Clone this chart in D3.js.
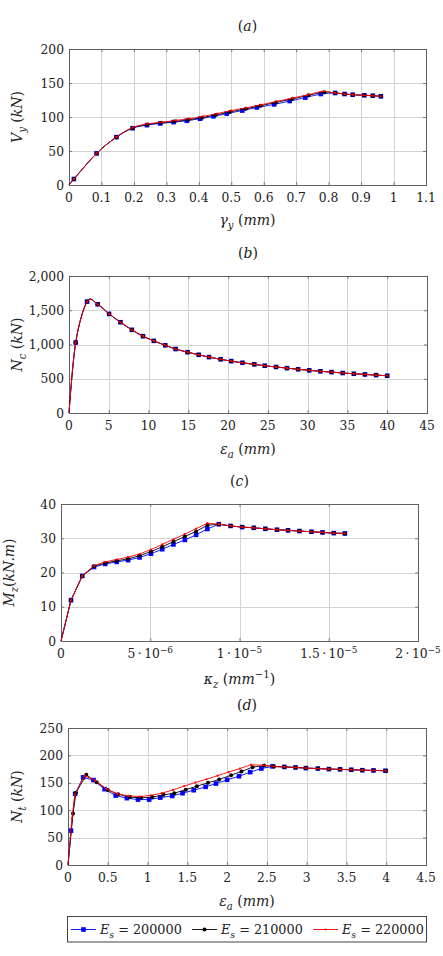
<!DOCTYPE html>
<html><head><meta charset="utf-8">
<script src="https://cdn.jsdelivr.net/npm/d3@7"></script>
<style>html,body{margin:0;padding:0;background:#fff}svg{display:block}
svg text{font-family:"DejaVu Serif",serif;}</style>
</head><body>
<svg id="chart" width="443" height="956"></svg>
<script>
// ---------- DATA ----------
const legendValues = ["200000", "210000", "220000"];

// Panel (a): V_y (kN) vs gamma_y (mm)
const aX200 = [0, 0.015, 0.085, 0.146, 0.196, 0.24, 0.281, 0.322, 0.363, 0.404, 0.445, 0.486, 0.534, 0.579, 0.632, 0.68, 0.728, 0.776, 0.82, 0.849, 0.874, 0.91, 0.936, 0.961];
const aY200 = [0, 8.8, 46.5, 70.4, 83.5, 88, 90.5, 92.5, 94.5, 97.5, 101, 105, 109.5, 114, 118.5, 123.5, 128.5, 133.8, 135.3, 133.8, 132.8, 131.9, 131.3, 130.4];
const aX210 = [0, 0.015, 0.085, 0.146, 0.196, 0.242, 0.284, 0.326, 0.368, 0.41, 0.452, 0.496, 0.545, 0.59, 0.638, 0.688, 0.738, 0.787, 0.82, 0.849, 0.874, 0.91, 0.936, 0.961];
const aY210 = [0, 8.8, 46.5, 70.4, 84, 89, 91.5, 93.5, 96, 99, 103, 107.5, 112, 116.5, 121.5, 126.5, 132, 136.5, 135.3, 133.8, 132.8, 131.9, 131.3, 130.4];
const aX220 = [0, 0.015, 0.085, 0.146, 0.196, 0.243, 0.287, 0.33, 0.372, 0.414, 0.457, 0.5, 0.546, 0.592, 0.64, 0.69, 0.735, 0.78, 0.82, 0.849, 0.874, 0.91, 0.936, 0.961];
const aY220 = [0, 8.8, 46.5, 70.4, 84.5, 90, 92.5, 95, 97.5, 101, 105, 109.5, 113.5, 118, 123, 128, 132.5, 137.5, 135.3, 133.8, 132.8, 131.9, 131.3, 130.4];

// Panel (b): N_c (kN) vs eps_a (mm)  (three series coincide)
const bX = [0, 0.84, 2.27, 3.6, 5.04, 6.47, 7.9, 9.3, 10.66, 12.1, 13.4, 14.9, 16.3, 17.6, 19.06, 20.4, 21.8, 23.3, 24.6, 26.03, 27.4, 28.8, 30.2, 31.6, 33, 34.4, 35.8, 37.2, 38.6, 40];
const bY200 = [0, 1029, 1626, 1587, 1447, 1325, 1214, 1121, 1053, 988, 934, 888, 850, 816, 784, 757, 733, 710, 690, 672, 655, 638, 623, 609, 597, 584, 573, 563, 553, 544];
const bY210 = [0, 1029, 1626, 1587, 1447, 1325, 1214, 1121, 1053, 988, 934, 888, 850, 816, 784, 757, 733, 710, 690, 672, 655, 638, 623, 609, 597, 584, 573, 563, 553, 544];
const bY220 = [0, 1029, 1626, 1587, 1447, 1325, 1214, 1121, 1053, 988, 934, 888, 850, 816, 784, 757, 733, 710, 690, 672, 655, 638, 623, 609, 597, 584, 573, 563, 553, 544];

// Panel (c): M_z (kN.m) vs kappa_z (mm^-1)
const cX = [0, 0.56e-6, 1.19e-6, 1.85e-6, 2.48e-6, 3.12e-6, 3.76e-6, 4.4e-6, 5.04e-6, 5.67e-6, 6.3e-6, 6.94e-6, 7.57e-6, 8.2e-6, 8.84e-6, 9.5e-6, 10.15e-6, 10.8e-6, 11.45e-6, 12.1e-6, 12.72e-6, 13.36e-6, 14.03e-6, 14.65e-6, 15.28e-6, 15.9e-6];
const cY200 = [0, 11.9, 19.0, 21.6, 22.5, 23.1, 23.6, 24.4, 25.5, 26.8, 28.2, 29.5, 31.0, 32.7, 34.1, 33.6, 33.25, 33.05, 32.76, 32.5, 32.3, 32.1, 31.9, 31.7, 31.5, 31.4];
const cY210 = [0, 11.9, 19.0, 21.8, 22.8, 23.4, 24.0, 24.9, 26.1, 27.5, 29.0, 30.5, 32.0, 33.8, 34.1, 33.6, 33.25, 33.05, 32.76, 32.5, 32.3, 32.1, 31.9, 31.7, 31.5, 31.4];
const cY220 = [0, 11.9, 19.0, 22.0, 23.1, 23.8, 24.5, 25.4, 26.7, 28.2, 29.7, 31.2, 32.8, 34.4, 34.1, 33.6, 33.25, 33.05, 32.76, 32.5, 32.3, 32.1, 31.9, 31.7, 31.5, 31.4];

// Panel (d): N_t (kN) vs eps_a (mm)
const dX200 = [0, 0.038, 0.09, 0.19, 0.32, 0.46, 0.6, 0.74, 0.88, 1.02, 1.16, 1.31, 1.44, 1.58, 1.73, 1.86, 2.0, 2.15, 2.29, 2.43, 2.57, 2.72, 2.86, 2.99, 3.14, 3.28, 3.42, 3.56, 3.7, 3.84, 3.99];
const dY200 = [0, 62.7, 130, 160, 155, 138.4, 126.7, 122, 119.4, 119.4, 123, 126, 131, 136.5, 142.6, 148.6, 155.4, 162, 169.5, 176, 180, 179, 178, 176.8, 176, 175, 174.5, 173.8, 173, 172.6, 172];
const dX210 = [0, 0.063, 0.1, 0.23, 0.36, 0.5, 0.63, 0.78, 0.92, 1.06, 1.2, 1.335, 1.48, 1.62, 1.76, 1.9, 2.05, 2.18, 2.32, 2.465, 2.59, 2.72, 2.86, 2.99, 3.14, 3.28, 3.42, 3.56, 3.7, 3.84, 4.0];
const dY210 = [0, 94, 132, 164.5, 151, 137, 129, 124, 122.5, 124, 128, 131, 137.5, 143.8, 150, 156, 164, 170.6, 178.6, 181.5, 179.7, 179, 178, 176.8, 176, 175, 174.5, 173.8, 173, 172.6, 172];
const dX220 = [0, 0.05, 0.085, 0.21, 0.34, 0.48, 0.62, 0.76, 0.9, 1.04, 1.18, 1.32, 1.46, 1.6, 1.74, 1.88, 2.02, 2.16, 2.3, 2.45, 2.59, 2.72, 2.86, 2.99, 3.14, 3.28, 3.42, 3.56, 3.7, 3.84, 4.0];
const dY220 = [0, 85, 128, 163, 154, 139, 130, 126, 125, 127, 131, 137, 144, 150.5, 156.5, 163, 169.5, 176, 183, 182, 179.7, 179, 178, 176.8, 176, 175, 174.5, 173.8, 173, 172.6, 172];

// Tick values
const aXTicks = [0, 0.1, 0.2, 0.3, 0.4, 0.5, 0.6, 0.7, 0.8, 0.9, 1, 1.1];
const aYTicks = [0, 50, 100, 150, 200];
const bXTicks = [0, 5, 10, 15, 20, 25, 30, 35, 40, 45];
const bYTicks = [0, 500, 1000, 1500, 2000];
const cXTicks = [0, 5e-6, 1e-5, 1.5e-5, 2e-5];
const cYTicks = [0, 10, 20, 30, 40];
const dXTicks = [0, 0.5, 1, 1.5, 2, 2.5, 3, 3.5, 4, 4.5];
const dYTicks = [0, 50, 100, 150, 200, 250];

// ---------- DRAWING ----------
const svg = d3.select("#chart");
const colors = ["#0000ff", "#000000", "#ff0000"];
const TXT = "#222";

function rich(textSel, segs, size) {
  let shift = 0;
  segs.forEach(s => {
    const ts = textSel.append("tspan").text(s.t)
      .style("font-style", s.i ? "italic" : "normal");
    let target = 0;
    if (s.sub) target = size * 0.28;
    if (s.sup) target = -size * 0.4;
    if (s.sub || s.sup) ts.attr("font-size", size * 0.72);
    if (target !== shift) { ts.attr("dy", target - shift); shift = target; }
  });
}

function sciLabel(textSel, v, size) {
  if (v === 0) { textSel.text("0"); return; }
  const e = Math.floor(Math.log10(v) + 1e-9);
  const m = +(v / Math.pow(10, e)).toFixed(2);
  rich(textSel, [{t: m + "\u2009\u00B7\u200910"}, {t: "\u2212" + Math.abs(e), sup: true}], size);
}

function drawPanel(p) {
  const [x0, y0, x1, y1] = p.box;
  const x = d3.scaleLinear().domain(p.xd).range([x0, x1]);
  const y = d3.scaleLinear().domain(p.yd).range([y1, y0]);
  const g = svg.append("g");

  g.append("g").selectAll("line").data(p.xt).join("line")
    .attr("x1", d => Math.round(x(d)) + 0.5).attr("x2", d => Math.round(x(d)) + 0.5).attr("y1", y0).attr("y2", y1)
    .attr("stroke", "#d2d2d2").attr("stroke-width", 1);
  g.append("g").selectAll("line").data(p.yt).join("line")
    .attr("y1", d => Math.round(y(d)) + 0.5).attr("y2", d => Math.round(y(d)) + 0.5).attr("x1", x0).attr("x2", x1)
    .attr("stroke", "#d2d2d2").attr("stroke-width", 1);

  const axB = g.append("g").attr("transform", `translate(0,${y1})`)
    .call(d3.axisBottom(x).tickValues(p.xt).tickSize(-3).tickFormat(""));
  const axT = g.append("g").attr("transform", `translate(0,${y0})`)
    .call(d3.axisTop(x).tickValues(p.xt).tickSize(-3).tickFormat(""));
  const axL = g.append("g").attr("transform", `translate(${x0},0)`)
    .call(d3.axisLeft(y).tickValues(p.yt).tickSize(-3).tickFormat(""));
  const axR = g.append("g").attr("transform", `translate(${x1},0)`)
    .call(d3.axisRight(y).tickValues(p.yt).tickSize(-3).tickFormat(""));
  [axB, axT, axL, axR].forEach(a => {
    a.select(".domain").remove();
    a.selectAll("line").attr("stroke", "#777");
  });
  g.append("rect").attr("x", x0 + 0.5).attr("y", y0 + 0.5).attr("width", x1 - x0).attr("height", y1 - y0)
    .attr("fill", "none").attr("stroke", "#606060").attr("stroke-width", 1);

  const fs = 12.3;
  g.append("g").selectAll("text").data(p.xt).join("text")
    .attr("x", d => x(d)).attr("y", y1 + 16.5).attr("text-anchor", "middle")
    .attr("font-size", fs).attr("fill", TXT)
    .each(function(d) {
      if (p.sci) sciLabel(d3.select(this), d, fs);
      else d3.select(this).text(p.xfmt(d));
    });
  g.append("g").selectAll("text").data(p.yt).join("text")
    .attr("x", x0 - 5).attr("y", d => y(d) + 4.5).attr("text-anchor", "end")
    .attr("font-size", fs).attr("fill", TXT)
    .text(d => p.yfmt(d));

  const LS = 14;
  const tt = g.append("text").attr("x", (x0 + x1) / 2).attr("y", y0 - 18)
    .attr("text-anchor", "middle").attr("font-size", LS).attr("fill", TXT);
  rich(tt, [{t: "("}, {t: p.id, i: true}, {t: ")"}], LS);

  const xl = g.append("text").attr("x", (x0 + x1) / 2).attr("y", y1 + p.xlabDy)
    .attr("text-anchor", "middle").attr("font-size", LS).attr("fill", TXT);
  rich(xl, p.xlab, LS);

  const yl = g.append("text").attr("transform", `translate(${p.ylabX},${(y0 + y1) / 2}) rotate(-90)`)
    .attr("text-anchor", "middle").attr("font-size", LS).attr("fill", TXT);
  rich(yl, p.ylab, LS);

  const clip = "clip" + p.id;
  svg.append("clipPath").attr("id", clip).append("rect")
    .attr("x", x0 - 3).attr("y", y0 - 3).attr("width", x1 - x0 + 6).attr("height", y1 - y0 + 6);
  const sg = g.append("g").attr("clip-path", `url(#${clip})`);
  p.series.forEach((s, i) => {
    const pts = s.x.map((xv, k) => [xv, s.y[k]]);
    const line = d3.line().x(d => x(d[0])).y(d => y(d[1])).curve(p.curve);
    sg.append("path").datum(pts).attr("d", line).attr("fill", "none")
      .attr("stroke", colors[i]).attr("stroke-width", 0.9);
    drawMarkers(sg, pts.filter(d => d[0] !== 0).map(d => [x(d[0]), y(d[1])]), i);
  });
}

function drawMarkers(sel, pts, i) {
  if (i === 0) {
    sel.append("g").selectAll("rect").data(pts).join("rect")
      .attr("x", d => d[0] - 2.3).attr("y", d => d[1] - 2.3).attr("width", 4.6).attr("height", 4.6)
      .attr("fill", colors[0]);
  } else if (i === 1) {
    sel.append("g").selectAll("circle").data(pts).join("circle")
      .attr("cx", d => d[0]).attr("cy", d => d[1]).attr("r", 2).attr("fill", colors[1]);
  } else {
    sel.append("g").selectAll("circle").data(pts).join("circle")
      .attr("cx", d => d[0]).attr("cy", d => d[1]).attr("r", 1.1).attr("fill", colors[2]);
  }
}

const smooth = d3.curveCardinal.tension(0);
const panels = [
  {id: "a", box: [69, 49, 426, 185], xd: [0, 1.1], yd: [0, 200], xt: aXTicks, yt: aYTicks,
   xfmt: d3.format(""), yfmt: d3.format(""), curve: smooth, xlabDy: 40, ylabX: 22,
   xlab: [{t: "\u03B3", i: true}, {t: "y", i: true, sub: true}, {t: " ("}, {t: "mm", i: true}, {t: ")"}],
   ylab: [{t: "V", i: true}, {t: "y", i: true, sub: true}, {t: " ("}, {t: "kN", i: true}, {t: ")"}],
   series: [{x: aX200, y: aY200}, {x: aX210, y: aY210}, {x: aX220, y: aY220}]},
  {id: "b", box: [69, 276, 427, 413], xd: [0, 45], yd: [0, 2000], xt: bXTicks, yt: bYTicks,
   xfmt: d3.format(""), yfmt: d3.format(","), curve: smooth, xlabDy: 41, ylabX: 22,
   xlab: [{t: "\u03B5", i: true}, {t: "a", i: true, sub: true}, {t: " ("}, {t: "mm", i: true}, {t: ")"}],
   ylab: [{t: "N", i: true}, {t: "c", i: true, sub: true}, {t: " ("}, {t: "kN", i: true}, {t: ")"}],
   series: [{x: bX, y: bY200}, {x: bX, y: bY210}, {x: bX, y: bY220}]},
  {id: "c", box: [61, 504, 418, 641], xd: [0, 2e-5], yd: [0, 40], xt: cXTicks, yt: cYTicks, sci: true,
   xfmt: d3.format(""), yfmt: d3.format(""), curve: d3.curveLinear, xlabDy: 43, ylabX: 14,
   xlab: [{t: "\u03BA", i: true}, {t: "z", i: true, sub: true}, {t: " ("}, {t: "mm", i: true}, {t: "\u22121", sup: true}, {t: ")"}],
   ylab: [{t: "M", i: true}, {t: "z", i: true, sub: true}, {t: "("}, {t: "kN.m", i: true}, {t: ")"}],
   series: [{x: cX, y: cY200}, {x: cX, y: cY210}, {x: cX, y: cY220}]},
  {id: "d", box: [68, 728, 426, 865], xd: [0, 4.5], yd: [0, 250], xt: dXTicks, yt: dYTicks,
   xfmt: d3.format(""), yfmt: d3.format(""), curve: d3.curveLinear, xlabDy: 41, ylabX: 22,
   xlab: [{t: "\u03B5", i: true}, {t: "a", i: true, sub: true}, {t: " ("}, {t: "mm", i: true}, {t: ")"}],
   ylab: [{t: "N", i: true}, {t: "t", i: true, sub: true}, {t: " ("}, {t: "kN", i: true}, {t: ")"}],
   series: [{x: dX200, y: dY200}, {x: dX210, y: dY210}, {x: dX220, y: dY220}]}
];
panels.forEach(drawPanel);

// ---------- LEGEND ----------
const lg = svg.append("g");
lg.append("rect").attr("x", 67.5).attr("y", 916.5).attr("width", 359).attr("height", 25.5)
  .attr("fill", "#fff").attr("stroke", "#444").attr("stroke-width", 1);
const legX = [71, 192, 313];
legendValues.forEach((v, i) => {
  const lx = legX[i], ly = 929.5;
  lg.append("line").attr("x1", lx).attr("x2", lx + 25).attr("y1", ly).attr("y2", ly)
    .attr("stroke", colors[i]).attr("stroke-width", 0.9);
  drawMarkers(lg, [[lx + 12.5, ly]], i);
  const t = lg.append("text").attr("x", lx + 29).attr("y", ly + 4.5)
    .attr("font-size", 12.8).attr("fill", TXT);
  rich(t, [{t: "E", i: true}, {t: "s", i: true, sub: true}, {t: " = " + v}], 12.8);
});
</script>
</body></html>
